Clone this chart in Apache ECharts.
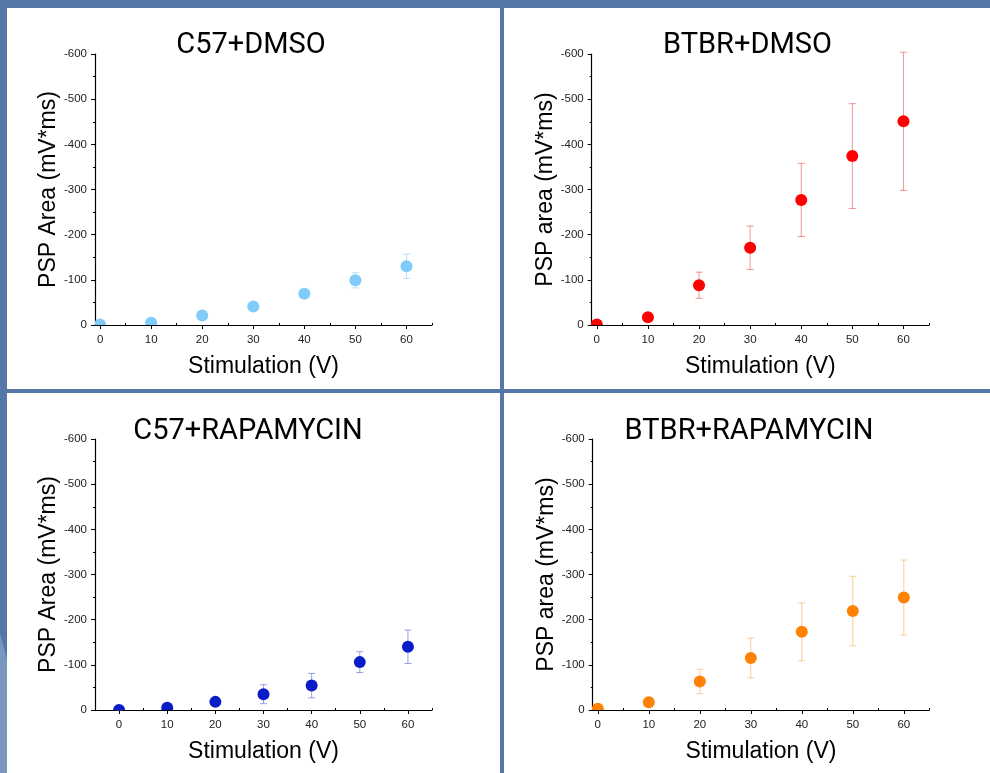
<!DOCTYPE html>
<html>
<head>
<meta charset="utf-8">
<style>
  html, body { margin: 0; padding: 0; background: #5477A8; }
  #chart { width: 990px; height: 773px; }
</style>
<script src="https://cdn.jsdelivr.net/npm/echarts@6/dist/echarts.min.js"></script>
</head>
<body>
<div id="chart"></div>
<script>
// ---- data ----
const stimulation = [0, 10, 20, 30, 40, 50, 60];
const xTickLabels = [0, 10, 20, 30, 40, 50, 60];

const panelTitles = ['C57+DMSO', 'BTBR+DMSO', 'C57+RAPAMYCIN', 'BTBR+RAPAMYCIN'];
const yAxisNames = ['PSP Area (mV*ms)', 'PSP area (mV*ms)', 'PSP Area (mV*ms)', 'PSP area (mV*ms)'];

const c57Dmso      = [-1, -5, -21, -41, -69, -99, -130];
const c57DmsoErr   = [0, 2, 5, 6, 8, 17, 27];
const btbrDmso     = [-1, -17, -88, -171, -277, -374, -451];
const btbrDmsoErr  = [0, 5, 29, 48, 81, 116, 153];
const c57Rapa      = [0, -5, -18, -35, -54, -106, -140];
const c57RapaErr   = [0, 3, 8, 21, 27, 23, 37];
const btbrRapa     = [-3, -17, -63, -115, -173, -219, -249];
const btbrRapaErr  = [0, 6, 27, 44, 64, 77, 83];

// ---- layout / style ----
const panels = [
  { rect: [7, 8, 493, 381],   grid: { left: 95,    top: 54,  width: 337, height: 271 }, xMin: -1, title: [251, 46],  values: c57Dmso,  errs: c57DmsoErr,  color: '#7FCBFA', errColor: 'rgba(127,203,250,0.55)' },
  { rect: [504, 8, 486, 381], grid: { left: 591.7, top: 54,  width: 337.3, height: 271 }, xMin: -1, title: [747.5, 46], values: btbrDmso, errs: btbrDmsoErr, color: '#FF0000', errColor: 'rgba(235,90,90,0.65)' },
  { rect: [7, 393, 493, 380], grid: { left: 95,    top: 439, width: 337, height: 271 }, xMin: -5, title: [248, 432], values: c57Rapa,  errs: c57RapaErr,  color: '#0A1CC8', errColor: 'rgba(70,90,210,0.55)' },
  { rect: [504, 393, 486, 380], grid: { left: 592.7, top: 439, width: 336.6, height: 271 }, xMin: -1, title: [749, 432], values: btbrRapa, errs: btbrRapaErr, color: '#FF8205', errColor: 'rgba(245,175,90,0.6)' }
];

const chart = echarts.init(document.getElementById('chart'), null, { renderer: 'canvas' });

const grids = [], xAxes = [], yAxes = [], series = [], graphics = [];

graphics.push({
  type: 'polygon', silent: true, z: -20,
  shape: { points: [[0, 633], [7, 660], [7, 773], [0, 773]] },
  style: { fill: '#7896BF' }
});

panels.forEach((p, i) => {
  graphics.push({
    type: 'rect', silent: true, z: -10,
    shape: { x: p.rect[0], y: p.rect[1], width: p.rect[2], height: p.rect[3] },
    style: { fill: '#FFFFFF' }
  });
  graphics.push({
    type: 'text', silent: true, z: 10,
    x: p.title[0], y: p.title[1],
    style: {
      text: panelTitles[i], fill: '#000', fontSize: 29, fontFamily: 'Roboto',
      align: 'center', verticalAlign: 'middle', textAlign: 'center', textVerticalAlign: 'middle'
    }
  });

  grids.push(Object.assign({ containLabel: false }, p.grid));

  const minorX = [];
  for (let v = p.xMin < -1 ? -5 : 5; v <= 65; v += 10) minorX.push(v);

  xAxes.push({
    type: 'value', gridIndex: i, min: p.xMin, max: 65,
    name: 'Stimulation (V)', nameLocation: 'middle', nameGap: 30,
    nameTextStyle: { fontSize: 23, fontFamily: 'Liberation Sans', color: '#000' },
    axisLine: { show: true, onZero: false, lineStyle: { color: '#000', width: 1.2 } },
    axisTick: { show: true, inside: false, length: 4, customValues: xTickLabels, lineStyle: { color: '#000' } },
    axisLabel: { show: true, margin: 9, customValues: xTickLabels, fontSize: 11.5, fontFamily: 'Liberation Sans', color: '#222' },
    splitLine: { show: false }
  });
  xAxes.push({
    type: 'value', gridIndex: i, min: p.xMin, max: 65,
    axisLine: { show: false },
    axisTick: { show: true, inside: false, length: 2, customValues: minorX, lineStyle: { color: '#000' } },
    axisLabel: { show: false },
    splitLine: { show: false }
  });

  yAxes.push({
    type: 'value', gridIndex: i, min: -600, max: 0, interval: 100, inverse: true,
    name: yAxisNames[i], nameLocation: 'middle', nameGap: 33, nameRotate: 90,
    nameTextStyle: { fontSize: 23, fontFamily: 'Liberation Sans', color: '#000' },
    axisLine: { show: true, onZero: false, lineStyle: { color: '#000', width: 1.2 } },
    axisTick: { show: true, inside: false, length: 4, lineStyle: { color: '#000' } },
    minorTick: { show: true, splitNumber: 2, length: 2, lineStyle: { color: '#000' } },
    axisLabel: { margin: 8, fontSize: 11.5, fontFamily: 'Liberation Sans', color: '#222' },
    splitLine: { show: false }
  });

  const errData = stimulation.map((x, k) => [x, p.values[k] - p.errs[k], p.values[k] + p.errs[k]]);
  const col = p.errColor;
  series.push({
    type: 'custom', name: panelTitles[i] + ' SEM', xAxisIndex: i * 2, yAxisIndex: i, z: 1, clip: false, silent: true,
    data: errData,
    renderItem: function (params, api) {
      const x = api.value(0);
      const a = api.coord([x, api.value(1)]);
      const b = api.coord([x, api.value(2)]);
      const w = 3.5;
      const st = { stroke: col, lineWidth: 1 };
      return {
        type: 'group',
        children: [
          { type: 'line', shape: { x1: a[0], y1: a[1], x2: b[0], y2: b[1] }, style: st },
          { type: 'line', shape: { x1: a[0] - w, y1: a[1], x2: a[0] + w, y2: a[1] }, style: st },
          { type: 'line', shape: { x1: b[0] - w, y1: b[1], x2: b[0] + w, y2: b[1] }, style: st }
        ]
      };
    }
  });
  const fill = p.color;
  series.push({
    type: 'custom', name: panelTitles[i], xAxisIndex: i * 2, yAxisIndex: i, z: 3, clip: true,
    data: stimulation.map((x, k) => [x, p.values[k]]),
    renderItem: function (params, api) {
      const c = api.coord([api.value(0), api.value(1)]);
      return { type: 'circle', shape: { cx: c[0], cy: c[1], r: 6 }, style: { fill: fill } };
    }
  });
});

chart.setOption({
  backgroundColor: '#5477A8',
  animation: false,
  grid: grids,
  xAxis: xAxes,
  yAxis: yAxes,
  series: series,
  graphic: { elements: graphics }
});
</script>
</body>
</html>
